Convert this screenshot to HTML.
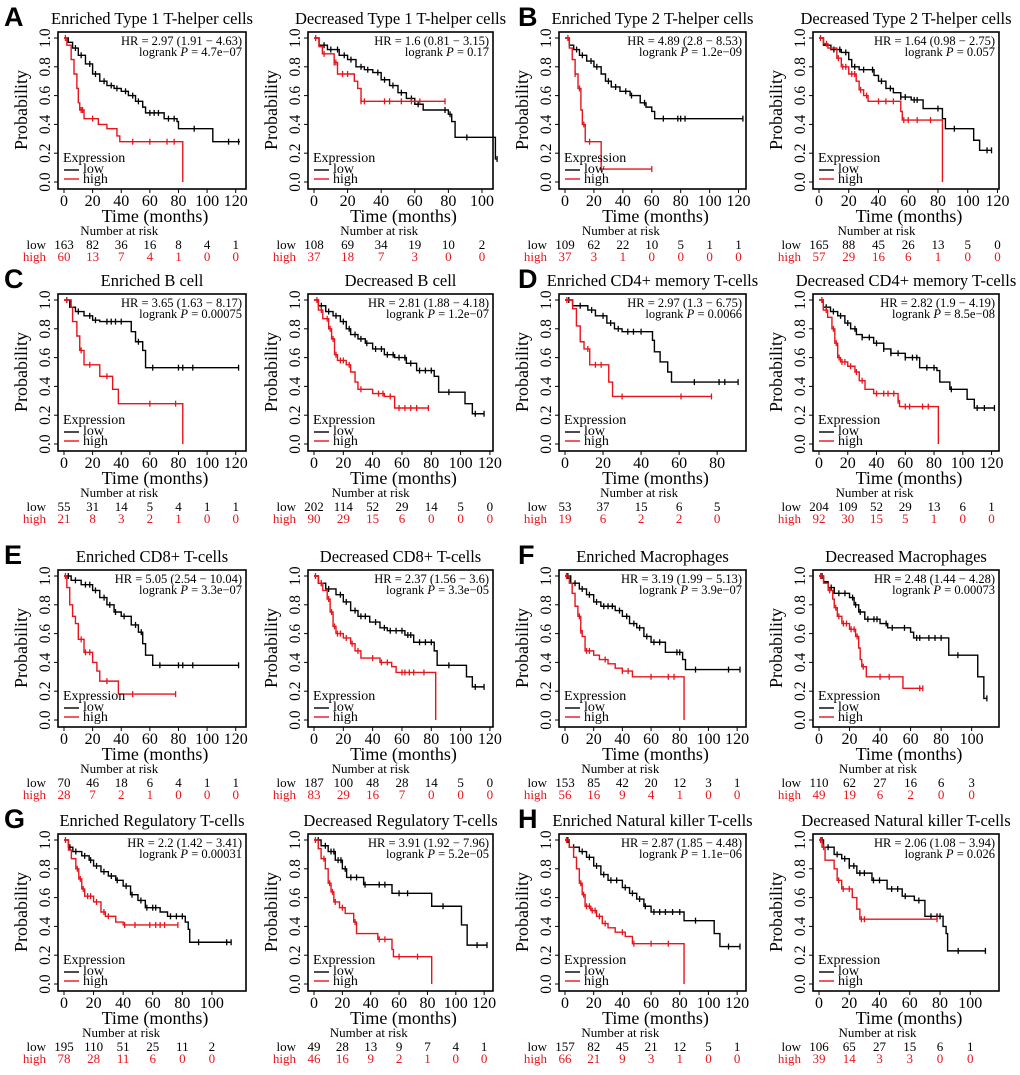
<!DOCTYPE html>
<html><head><meta charset="utf-8">
<style>
html,body{margin:0;padding:0;background:#fff;}
svg{display:block;font-family:"Liberation Serif",serif;}
.let{font-family:"Liberation Sans",sans-serif;font-weight:bold;font-size:27px;}
</style></head>
<body>
<svg id="fig" width="1020" height="1075" viewBox="0 0 1020 1075"></svg>
<script>
// ===== data: [time, survival] step points, end time, censor times =====
const p1Low=[[0,1],[3,.97],[6,.93],[10,.88],[15,.82],[20,.75],[25,.70],[30,.67],[35,.65],[40,.63],[45,.60],[50,.56],[55,.52],[57,.48],[70,.44],[79,.42],[80,.37],[104,.28]];
const p1LowCens=[8,12,18,22,28,33,37,43,48,52,60,63,66,73,77,91,115,122];
const p1High=[[0,1],[2,.95],[5,.85],[7,.75],[9,.65],[10,.55],[11,.50],[14,.44],[24,.40],[30,.37],[37,.32],[39,.28],[83,0]];
const p1HighCens=[1,12,13,20,48,60,72,77];
const p2Low=[[0,1],[3,.95],[8,.92],[15,.88],[20,.85],[25,.80],[30,.78],[35,.76],[40,.71],[45,.67],[50,.62],[55,.58],[60,.54],[65,.50],[80,.47],[82,.42],[84,.31],[108,.16]];
const p2LowCens=[6,10,14,18,22,28,32,38,42,47,52,58,62,78,81,91,109];
const p2High=[[0,1],[3,.94],[5,.89],[12,.83],[14,.75],[24,.70],[26,.65],[28,.56]];
const p2HighCens=[1,6,12,13,17,20,28,30,42,45,52,58,63,78];
const p3Low=[[0,1],[3,.95],[6,.92],[10,.88],[15,.84],[20,.80],[25,.75],[28,.70],[32,.66],[38,.63],[45,.60],[52,.55],[56,.52],[60,.49],[62,.44]];
const p3LowCens=[8,12,18,22,30,35,42,46,55,68,78,80,83,123];
const p3High=[[0,1],[3,.93],[5,.85],[7,.75],[9,.65],[11,.50],[12,.40],[14,.28],[25,.09]];
const p3HighCens=[2,7,10,13,17,60];
const p4Low=[[0,1],[3,.95],[8,.92],[15,.90],[20,.85],[22,.80],[27,.78],[37,.74],[40,.70],[45,.65],[50,.62],[55,.59],[62,.57],[70,.51],[83,.44],[85,.37],[104,.29],[108,.22]];
const p4LowCens=[10,14,18,24,30,36,42,48,55,58,64,66,80,91,113,116];
const p4High=[[0,1],[3,.96],[6,.93],[12,.86],[15,.80],[20,.75],[25,.70],[27,.64],[30,.60],[33,.56],[55,.49],[56,.43],[83,0]];
const p4HighCens=[1,5,13,16,18,22,24,28,32,40,45,50,57,60,66,75];
const c1Low=[[0,1],[4,.95],[8,.92],[14,.89],[20,.86],[25,.85],[47,.78],[50,.71],[55,.65],[57,.53]];
const c1LowCens=[2,10,18,22,30,33,36,40,52,62,80,83,90,122];
const c1High=[[0,1],[5,.95],[6,.85],[9,.75],[11,.65],[14,.55],[25,.47],[34,.38],[38,.28],[83,0]];
const c1HighCens=[2,12,18,30,60,78];
const c2Low=[[0,1],[3,.96],[8,.92],[13,.89],[18,.85],[22,.80],[25,.76],[30,.73],[35,.70],[40,.66],[48,.62],[55,.60],[63,.56],[70,.51],[82,.47],[85,.36],[103,.28],[108,.21]];
const c2LowCens=[5,10,15,20,24,28,32,36,42,46,50,54,58,62,66,72,76,80,92,110,116];
const c2High=[[0,1],[3,.93],[6,.87],[10,.80],[12,.73],[14,.62],[16,.58],[22,.55],[25,.50],[28,.43],[30,.38],[40,.35],[48,.33],[55,.25]];
const c2HighCens=[2,5,9,11,13,15,18,20,24,32,44,47,52,58,62,66,70,78];
const d1Low=[[0,1],[4,.96],[12,.93],[16,.89],[22,.84],[26,.80],[30,.78],[46,.72],[47,.64],[50,.57],[54,.50],[56,.43]];
const d1LowCens=[2,8,14,20,24,28,33,36,40,68,81,84,91];
const d1High=[[0,1],[4,.94],[6,.82],[8,.71],[10,.66],[13,.55],[23,.43],[25,.33]];
const d1HighCens=[1,12,16,19,30,61,77];
const d2Low=[[0,1],[3,.95],[8,.92],[13,.89],[18,.84],[22,.80],[26,.76],[30,.74],[38,.70],[45,.66],[50,.63],[60,.60],[70,.53],[82,.51],[84,.43],[91,.38],[103,.31],[108,.25]];
const d2LowCens=[5,10,15,20,25,30,35,40,45,50,55,60,65,68,75,80,92,110,115,122];
const d2High=[[0,1],[3,.93],[6,.88],[9,.80],[11,.70],[13,.60],[15,.57],[20,.54],[25,.50],[28,.44],[32,.38],[38,.35],[55,.30],[56,.26],[83,0]];
const d2HighCens=[2,5,10,12,14,16,18,22,26,30,40,45,48,52,55,60,63,72,76];
const e1Low=[[0,1],[5,.97],[12,.94],[20,.90],[25,.85],[30,.80],[35,.75],[40,.72],[47,.66],[52,.61],[55,.53],[57,.45],[62,.38]];
const e1LowCens=[3,8,15,18,22,28,32,36,42,50,54,67,80,83,90,122];
const e1High=[[0,1],[2,.92],[4,.80],[6,.72],[8,.67],[10,.56],[14,.47],[20,.40],[23,.34],[25,.27],[38,.18]];
const e1HighCens=[1,12,15,18,30,48,78];
const e2Low=[[0,1],[3,.95],[8,.91],[15,.87],[20,.82],[25,.76],[30,.72],[38,.68],[45,.64],[50,.62],[62,.59],[68,.54],[82,.48],[84,.38],[104,.30],[108,.23]];
const e2LowCens=[5,10,18,22,28,32,35,42,48,52,56,60,64,66,72,76,80,92,110,116];
const e2High=[[0,1],[3,.95],[6,.90],[9,.84],[11,.75],[13,.65],[15,.60],[20,.57],[25,.53],[28,.48],[32,.43],[45,.40],[53,.37],[56,.33],[83,0]];
const e2HighCens=[1,5,10,12,14,16,18,22,26,30,40,46,50,60,62,65,68,75];
const f1Low=[[0,1],[4,.95],[10,.91],[15,.87],[20,.82],[25,.79],[35,.76],[40,.72],[45,.67],[50,.64],[55,.58],[60,.54],[70,.47],[82,.42],[84,.35]];
const f1LowCens=[2,7,12,17,22,27,30,33,38,43,48,52,57,62,66,78,80,91,114,122];
const f1High=[[0,1],[3,.95],[5,.88],[7,.79],[9,.72],[11,.62],[12,.58],[14,.48],[20,.45],[24,.42],[30,.39],[35,.36],[40,.34],[47,.30],[83,0]];
const f1HighCens=[1,10,11,15,17,28,40,44,60,72,76];
const f2Low=[[0,1],[3,.96],[6,.92],[10,.88],[20,.85],[23,.80],[26,.75],[30,.70],[40,.67],[45,.64],[60,.61],[62,.57],[85,.45],[104,.30],[108,.15]];
const f2LowCens=[2,8,13,17,22,24,27,32,36,38,44,48,56,64,66,72,76,80,91,110];
const f2High=[[0,1],[3,.95],[6,.90],[9,.84],[10,.78],[12,.72],[15,.67],[20,.63],[24,.58],[26,.50],[27,.42],[28,.37],[31,.30],[55,.22]];
const f2HighCens=[1,7,11,13,16,18,21,23,25,29,40,46,66,68];
const g1Low=[[0,1],[3,.95],[6,.92],[12,.89],[17,.86],[20,.82],[25,.78],[30,.75],[35,.72],[40,.68],[45,.62],[50,.58],[55,.53],[65,.50],[70,.47],[82,.43],[84,.38],[85,.29]];
const g1LowCens=[4,8,14,18,22,27,32,36,42,46,52,56,60,62,72,76,80,91,110,113];
const g1High=[[0,1],[3,.93],[5,.87],[8,.80],[10,.73],[12,.66],[14,.61],[20,.57],[25,.50],[28,.47],[35,.43],[40,.41]];
const g1HighCens=[1,9,11,13,16,18,22,27,30,41,48,58,62,65,68,77];
const g2Low=[[0,1],[5,.96],[10,.92],[15,.86],[20,.80],[23,.74],[35,.69],[55,.63],[83,.54],[104,.41],[108,.27]];
const g2LowCens=[3,8,12,14,17,19,22,26,30,36,46,50,60,66,91,115,122];
const g2High=[[0,1],[3,.94],[5,.87],[8,.80],[10,.70],[12,.64],[14,.57],[18,.53],[22,.49],[28,.43],[30,.35],[45,.31],[55,.24],[56,.19],[83,0]];
const g2HighCens=[1,7,11,13,15,20,29,46,50,60,73];
const h1Low=[[0,1],[3,.95],[10,.92],[15,.88],[20,.82],[25,.76],[30,.72],[40,.67],[45,.63],[50,.59],[55,.54],[60,.50],[83,.44],[104,.35],[108,.26]];
const h1LowCens=[2,6,12,17,22,27,32,36,42,47,52,56,62,66,70,75,80,91,114,122];
const h1High=[[0,1],[3,.95],[6,.88],[8,.80],[10,.70],[12,.62],[14,.54],[18,.51],[22,.47],[26,.42],[30,.39],[35,.36],[42,.33],[47,.28],[83,0]];
const h1HighCens=[1,11,13,15,17,19,21,24,28,40,48,60,72];
const h2Low=[[0,1],[3,.95],[10,.90],[15,.87],[20,.82],[25,.77],[35,.72],[45,.66],[55,.61],[63,.58],[70,.47],[82,.40],[84,.35],[85,.23]];
const h2LowCens=[2,6,12,17,20,23,27,30,36,40,48,52,57,66,74,78,80,92,110];
const h2High=[[0,1],[2,.95],[4,.86],[10,.80],[12,.72],[15,.66],[22,.60],[25,.52],[27,.45]];
const h2HighCens=[1,3,13,16,20,28,30,78];

// ===== tick labels and risk tables =====
const ticks120=[0,20,40,60,80,100,120];
const ticks100=[0,20,40,60,80,100];
const ticks80=[0,20,40,60,80];
const yTicks=[0,0.2,0.4,0.6,0.8,1.0];

const panels=[
 {row:0,col:0,title:"Enriched Type 1 T-helper cells",hr:"HR = 2.97 (1.91 − 4.63)",p:"4.7e−07",xmax:123,ticks:ticks120,lo:p1Low,loEnd:123,loC:p1LowCens,hi:p1High,hiEnd:83,hiC:p1HighCens,rl:[163,82,36,16,8,4,1],rh:[60,13,7,4,1,0,0],letter:"A"},
 {row:0,col:1,title:"Decreased Type 1 T-helper cells",hr:"HR = 1.6 (0.81 − 3.15)",p:"0.17",xmax:103,ticks:ticks100,lo:p2Low,loEnd:109,loC:p2LowCens,hi:p2High,hiEnd:78,hiC:p2HighCens,rl:[108,69,34,19,10,2],rh:[37,18,7,3,0,0]},
 {row:0,col:2,title:"Enriched Type 2 T-helper cells",hr:"HR = 4.89 (2.8 − 8.53)",p:"1.2e−09",xmax:121,ticks:ticks120,lo:p3Low,loEnd:123,loC:p3LowCens,hi:p3High,hiEnd:60,hiC:p3HighCens,rl:[109,62,22,10,5,1,1],rh:[37,3,1,0,0,0,0],letter:"B"},
 {row:0,col:3,title:"Decreased Type 2 T-helper cells",hr:"HR = 1.64 (0.98 − 2.75)",p:"0.057",xmax:117,ticks:ticks120,lo:p4Low,loEnd:116,loC:p4LowCens,hi:p4High,hiEnd:83,hiC:p4HighCens,rl:[165,88,45,26,13,5,0],rh:[57,29,16,6,1,0,0]},
 {row:1,col:0,title:"Enriched B cell",hr:"HR = 3.65 (1.63 − 8.17)",p:"0.00075",xmax:123,ticks:ticks120,lo:c1Low,loEnd:122,loC:c1LowCens,hi:c1High,hiEnd:83,hiC:c1HighCens,rl:[55,31,14,5,4,1,1],rh:[21,8,3,2,1,0,0],letter:"C"},
 {row:1,col:1,title:"Decreased B cell",hr:"HR = 2.81 (1.88 − 4.18)",p:"1.2e−07",xmax:118,ticks:ticks120,lo:c2Low,loEnd:116,loC:c2LowCens,hi:c2High,hiEnd:78,hiC:c2HighCens,rl:[202,114,52,29,14,5,0],rh:[90,29,15,6,0,0,0]},
 {row:1,col:2,title:"Enriched CD4+ memory T-cells",hr:"HR = 2.97 (1.3 − 6.75)",p:"0.0066",xmax:92,ticks:ticks80,lo:d1Low,loEnd:91,loC:d1LowCens,hi:d1High,hiEnd:77,hiC:d1HighCens,rl:[53,37,15,6,5],rh:[19,6,2,2,0],letter:"D"},
 {row:1,col:3,title:"Decreased CD4+ memory T-cells",hr:"HR = 2.82 (1.9 − 4.19)",p:"8.5e−08",xmax:121,ticks:ticks120,lo:d2Low,loEnd:122,loC:d2LowCens,hi:d2High,hiEnd:83,hiC:d2HighCens,rl:[204,109,52,29,13,6,1],rh:[92,30,15,5,1,0,0]},
 {row:2,col:0,title:"Enriched CD8+ T-cells",hr:"HR = 5.05 (2.54 − 10.04)",p:"3.3e−07",xmax:123,ticks:ticks120,lo:e1Low,loEnd:122,loC:e1LowCens,hi:e1High,hiEnd:78,hiC:e1HighCens,rl:[70,46,18,6,4,1,1],rh:[28,7,2,1,0,0,0],letter:"E"},
 {row:2,col:1,title:"Decreased CD8+ T-cells",hr:"HR = 2.37 (1.56 − 3.6)",p:"3.3e−05",xmax:118,ticks:ticks120,lo:e2Low,loEnd:116,loC:e2LowCens,hi:e2High,hiEnd:83,hiC:e2HighCens,rl:[187,100,48,28,14,5,0],rh:[83,29,16,7,0,0,0]},
 {row:2,col:2,title:"Enriched Macrophages",hr:"HR = 3.19 (1.99 − 5.13)",p:"3.9e−07",xmax:122,ticks:ticks120,lo:f1Low,loEnd:122,loC:f1LowCens,hi:f1High,hiEnd:83,hiC:f1HighCens,rl:[153,85,42,20,12,3,1],rh:[56,16,9,4,1,0,0],letter:"F"},
 {row:2,col:3,title:"Decreased Macrophages",hr:"HR = 2.48 (1.44 − 4.28)",p:"0.00073",xmax:114,ticks:ticks100,lo:f2Low,loEnd:110,loC:f2LowCens,hi:f2High,hiEnd:68,hiC:f2HighCens,rl:[110,62,27,16,6,3],rh:[49,19,6,2,0,0]},
 {row:3,col:0,title:"Enriched Regulatory T-cells",hr:"HR = 2.2 (1.42 − 3.41)",p:"0.00031",xmax:119,ticks:ticks100,lo:g1Low,loEnd:113,loC:g1LowCens,hi:g1High,hiEnd:77,hiC:g1HighCens,rl:[195,110,51,25,11,2],rh:[78,28,11,6,0,0],letter:"G"},
 {row:3,col:1,title:"Decreased Regulatory T-cells",hr:"HR = 3.91 (1.92 − 7.96)",p:"5.2e−05",xmax:122,ticks:ticks120,lo:g2Low,loEnd:122,loC:g2LowCens,hi:g2High,hiEnd:83,hiC:g2HighCens,rl:[49,28,13,9,7,4,1],rh:[46,16,9,2,1,0,0]},
 {row:3,col:2,title:"Enriched Natural killer T-cells",hr:"HR = 2.87 (1.85 − 4.48)",p:"1.1e−06",xmax:122,ticks:ticks120,lo:h1Low,loEnd:122,loC:h1LowCens,hi:h1High,hiEnd:83,hiC:h1HighCens,rl:[157,82,45,21,12,5,1],rh:[66,21,9,3,1,0,0],letter:"H"},
 {row:3,col:3,title:"Decreased Natural killer T-cells",hr:"HR = 2.06 (1.08 − 3.94)",p:"0.026",xmax:115,ticks:ticks100,lo:h2Low,loEnd:110,loC:h2LowCens,hi:h2High,hiEnd:78,hiC:h2HighCens,rl:[106,65,27,15,6,1],rh:[39,14,3,3,0,0]}
];

const rowY=[0,262,538,802];
const colL=[58,308,559,813];
const colR=[246,493,746,999];
const letterX=[4,0,518,0];
const NS="http://www.w3.org/2000/svg";
const svg=document.getElementById("fig");
const RED="#e8141c";

function mk(tag,attrs,parent,text){
  const e=document.createElementNS(NS,tag);
  for(const k in attrs) e.setAttribute(k,attrs[k]);
  if(text!==undefined) e.textContent=text;
  parent.appendChild(e);return e;
}
function stepAt(pts,t){let s=1;for(const p of pts){if(p[0]<=t)s=p[1];}return s;}

function curve(g,pts,end,cens,color,X,Y,name){
  let d="M"+X(0)+","+Y(pts[0][1]);
  for(let i=1;i<pts.length;i++){d+=" H"+X(pts[i][0])+" V"+Y(pts[i][1]);}
  const last=pts[pts.length-1];
  if(end>last[0] && last[1]>0) d+=" H"+X(end);
  const path=mk("path",{d:d,fill:"none",stroke:color,"stroke-width":1.4},g);
  
  
  for(const t of cens){
    const s=stepAt(pts,t);
    const cm=mk("path",{d:"M"+X(t)+","+(Y(s)-3)+" V"+(Y(s)+3),stroke:color,"stroke-width":1.3},g);
    
    
  }
}

panels.forEach((P,idx)=>{
  const oy=rowY[P.row], L=colL[P.col], R=colR[P.col];
  const top=oy+32, bot=oy+189;
  const x0=L+6, x1=R-6;
  const X=t=>+(x0+(t/P.xmax)*(x1-x0)).toFixed(2);
  const Y=s=>+(oy+182-s*144).toFixed(2);
  const g=mk("g",{},svg);
  
  
  const cx=(L+R)/2;
  if(P.letter){
    const lt=mk("text",{x:P.col===0?4:518,y:oy+26,class:"let"},g,P.letter);
    
    
  }
  const tt=mk("text",{x:cx,y:oy+24,"text-anchor":"middle","font-size":"16.5"},g,P.title);
  
  
  const box=mk("rect",{x:L,y:top,width:R-L,height:bot-top,fill:"none",stroke:"#000","stroke-width":1.6},g);
  
  
  // y axis
  yTicks.forEach(v=>{
    const tk=mk("line",{x1:L,x2:L-4,y1:Y(v),y2:Y(v),stroke:"#000","stroke-width":1},g);
    
    
    const tl=mk("text",{x:L-8,y:Y(v),"text-anchor":"middle","font-size":"15.5",transform:"rotate(-90 "+(L-8)+" "+Y(v)+")"},g,v.toFixed(1));
    
    
  });
  const yt=mk("text",{x:L-31,y:oy+110,"text-anchor":"middle","font-size":"18",transform:"rotate(-90 "+(L-31)+" "+(oy+110)+")"},g,"Probability");
  
  
  // x axis
  P.ticks.forEach(v=>{
    const tk=mk("line",{x1:X(v),x2:X(v),y1:bot,y2:bot+4,stroke:"#000","stroke-width":1},g);
    
    
    const tl=mk("text",{x:X(v),y:oy+206,"text-anchor":"middle","font-size":"16"},g,String(v));
    
    
  });
  const xt=mk("text",{x:cx+3,y:oy+222,"text-anchor":"middle","font-size":"18"},g,"Time (months)");
  
  
  // HR text
  const hr=mk("text",{x:R-4,y:oy+45,"text-anchor":"end","font-size":"12.5"},g,P.hr);
  
  
  const pv=mk("text",{x:R-4,y:oy+56,"text-anchor":"end","font-size":"12.5"},g);
  
  
  mk("tspan",{},pv,"logrank ");
  mk("tspan",{"font-style":"italic"},pv,"P");
  mk("tspan",{},pv," = "+P.p);
  // curves
  curve(g,P.lo,P.loEnd,P.loC,"#000",X,Y,"low");
  curve(g,P.hi,P.hiEnd,P.hiC,RED,X,Y,"high");
  // legend
  const lg=mk("g",{},g);
  
  
  mk("text",{x:L+5,y:oy+162,"font-size":"14"},lg,"Expression");
  mk("line",{x1:L+6,x2:L+21,y1:oy+170,y2:oy+170,stroke:"#000","stroke-width":1.4},lg);
  mk("line",{x1:L+6,x2:L+21,y1:oy+179,y2:oy+179,stroke:RED,"stroke-width":1.4},lg);
  mk("text",{x:L+25,y:oy+173,"font-size":"14"},lg,"low");
  mk("text",{x:L+25,y:oy+183,"font-size":"14"},lg,"high");
  // risk table
  const rt=mk("g",{},g);
  
  
  mk("text",{x:X(P.ticks[2])-2,y:oy+235,"text-anchor":"middle","font-size":"13"},rt,"Number at risk");
  mk("text",{x:L-12,y:oy+249,"text-anchor":"end","font-size":"13"},rt,"low");
  mk("text",{x:L-12,y:oy+261,"text-anchor":"end","font-size":"13",fill:RED},rt,"high");
  P.rl.forEach((v,i)=>{mk("text",{x:X(P.ticks[i]),y:oy+249,"text-anchor":"middle","font-size":"13"},rt,String(v));});
  P.rh.forEach((v,i)=>{mk("text",{x:X(P.ticks[i]),y:oy+261,"text-anchor":"middle","font-size":"13",fill:RED},rt,String(v));});
});
</script>
</body></html>
